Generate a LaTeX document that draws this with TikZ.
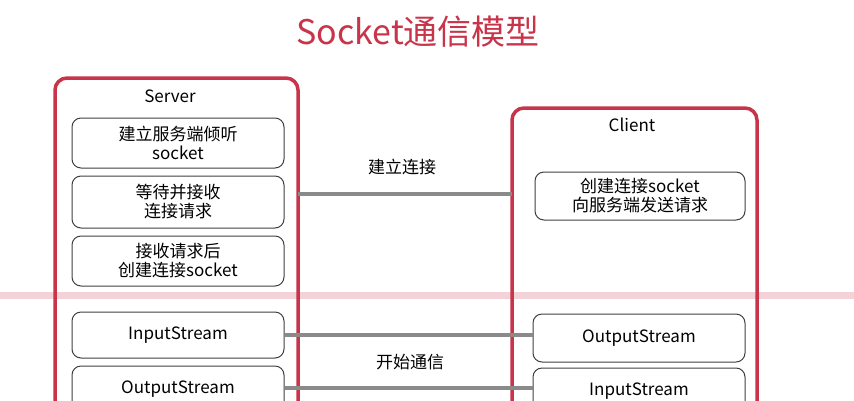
\documentclass[tikz,border=0pt]{standalone}
\usepackage{fontspec}
\setmainfont{Noto Sans CJK SC}
\definecolor{redc}{HTML}{C8344A}
\definecolor{pinkc}{HTML}{F4D3D8}
\definecolor{grayc}{HTML}{8A8A8A}
\begin{document}
\begin{tikzpicture}[x=1pt,y=-1pt,
  panel/.style={draw=redc,line width=3.5pt,rounded corners=12pt},
  inner/.style={draw=black!75,line width=1pt,rounded corners=9pt,align=center,font=\fontsize{17}{19}\selectfont,inner sep=0pt},
  conn/.style={draw=grayc,line width=3.5pt},
  lbl/.style={font=\fontsize{17}{19}\selectfont}]
\useasboundingbox (0,0) rectangle (854,400);
\fill[white] (0,0) rectangle (854,400);
\node[text=redc,font=\fontsize{34}{38}\selectfont] (title) at (418,32) {Socket通信模型};
\fill[pinkc] (0,292) rectangle (854,299);
\draw[panel] (55,410) -- (55,78) -- (298,78) -- (298,410);
\draw[panel] (512,410) -- (512,108) -- (757,108) -- (757,410);
\node[lbl] (server) at (170,96) {Server};
\node[lbl] (client) at (632,125) {Client};
\node[inner,minimum width=212pt,minimum height=50pt] (s1) at (178,143) {建立服务端倾听\\socket};
\node[inner,minimum width=212pt,minimum height=52pt] (s2) at (178,202) {等待并接收\\连接请求};
\node[inner,minimum width=212pt,minimum height=50pt] (s3) at (178,261) {接收请求后\\创建连接socket};
\node[inner,minimum width=212pt,minimum height=46pt] (sin) at (178,335) {InputStream};
\node[inner,minimum width=212pt,minimum height=46pt] (sout) at (178,389) {OutputStream};
\node[inner,minimum width=210pt,minimum height=48pt] (c1) at (640,196) {创建连接socket\\向服务端发送请求};
\node[inner,minimum width=212pt,minimum height=48pt] (cout) at (639,338) {OutputStream};
\node[inner,minimum width=212pt,minimum height=46pt] (cin) at (639,391) {InputStream};
\coordinate (a) at (298,194); \coordinate (b) at (512,194);
\draw[conn] (a) -- (b);
\draw[conn] (sin.east) -- (sin.east -| cout.west);
\draw[conn] (sout.east |- 0,388) -- (cin.west |- 0,388);
\node[lbl] (l1) at (402,167) {建立连接};
\node[lbl] (l2) at (410,362) {开始通信};
\end{tikzpicture}
\end{document}
